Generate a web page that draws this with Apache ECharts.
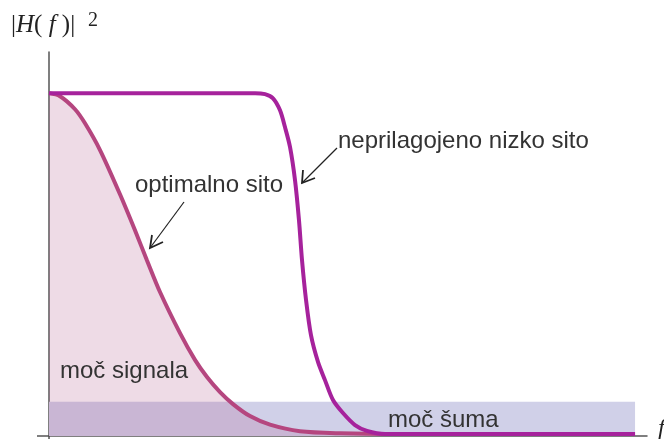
<!DOCTYPE html>
<html>
<head>
<meta charset="utf-8">
<script src="https://cdn.jsdelivr.net/npm/echarts@6/dist/echarts.min.js"></script>
<style>
  html, body { margin: 0; padding: 0; background: #fff; }
  #chart { width: 664px; height: 439px; }
</style>
</head>
<body>
<div id="chart"></div>
<script>
// frequency (0..100) and |H(f)|^2 values
const optimalF = [0, 1.84, 4.35, 6.02, 8.53, 11.87, 14.38, 16.39, 18.56, 21.91, 24.41, 26.42, 28.6, 30.77, 33.61, 36.96, 41.97, 48.66, 58.7, 98]
const optimalH = [1.0, 0.991, 0.953, 0.912, 0.834, 0.705, 0.6, 0.512, 0.42, 0.3, 0.222, 0.172, 0.128, 0.093, 0.058, 0.033, 0.014, 0.008, 0.006, 0.006]

const lowpassF = [0, 25.25, 34.45, 36.12, 37.46, 38.63, 39.46, 40.3, 41.14, 41.8, 42.31, 42.98, 43.81, 44.98, 46.15, 47.49, 49.16, 51.17, 53.18, 56.19, 98]
const lowpassH = [1, 1, 1, 0.997, 0.985, 0.95, 0.901, 0.843, 0.746, 0.63, 0.513, 0.397, 0.294, 0.216, 0.163, 0.105, 0.067, 0.032, 0.015, 0.006, 0.006]

const noiseF = [0, 98]
const noiseH = [0.1, 0.1]

const labels = {
  lowpass: 'neprilagojeno nizko sito',
  optimal: 'optimalno sito',
  signal: 'moč signala',
  noise: 'moč šuma'
}

const zip = (xs, ys) => xs.map((x, i) => [x, ys[i]])

const chart = echarts.init(document.getElementById('chart'))

// y is the baseline; zrender text has no alphabetic baseline, so shift from top
const sansText = (text, x, y) => ({
  type: 'text',
  z: 100,
  x: x,
  y: y - 19,
  style: {
    text: text,
    fill: '#333',
    font: '24px "Liberation Sans", Arial, sans-serif',
    verticalAlign: 'top'
  }
})

const arrow = (x1, y1, x2, y2, a1, a2) => ([
  {
    type: 'line',
    z: 100,
    shape: { x1: x1, y1: y1, x2: x2, y2: y2 },
    style: { stroke: '#222', lineWidth: 1.2 }
  },
  {
    type: 'polyline',
    z: 100,
    shape: { points: [a1, [x2, y2], a2] },
    style: { stroke: '#222', lineWidth: 1.8, fill: null }
  }
])

chart.setOption({
  animation: false,
  backgroundColor: '#fff',
  grid: { left: 49, right: 17, top: 52, bottom: 3 },
  xAxis: {
    type: 'value',
    min: 0,
    max: 100,
    axisLine: { show: true, lineStyle: { color: '#555', width: 1.5 } },
    axisTick: { show: false },
    axisLabel: { show: false },
    splitLine: { show: false }
  },
  yAxis: {
    type: 'value',
    min: 0,
    max: 1.12,
    axisLine: { show: true, lineStyle: { color: '#555', width: 1.5 } },
    axisTick: { show: false },
    axisLabel: { show: false },
    splitLine: { show: false }
  },
  series: [
    {
      name: 'noise',
      type: 'line',
      z: 1,
      data: zip(noiseF, noiseH),
      showSymbol: false,
      lineStyle: { width: 0 },
      areaStyle: { color: '#d0d0e8', opacity: 1 }
    },
    {
      name: 'optimal',
      type: 'line',
      z: 2,
      data: zip(optimalF, optimalH),
      smooth: 0.3,
      showSymbol: false,
      lineStyle: { color: '#b5467f', width: 4 },
      areaStyle: { color: 'rgba(174, 86, 136, 0.3)' }
    },
    {
      name: 'lowpass',
      type: 'line',
      z: 3,
      data: zip(lowpassF, lowpassH),
      smooth: 0.3,
      showSymbol: false,
      lineStyle: { color: '#a6229c', width: 4 }
    }
  ],
  graphic: [
    // axis overshoots
    { type: 'line', shape: { x1: 37, y1: 436, x2: 49, y2: 436 }, style: { stroke: '#555', lineWidth: 1.5 } },
    { type: 'line', shape: { x1: 49, y1: 436, x2: 49, y2: 439 }, style: { stroke: '#555', lineWidth: 1.5 } },
    // |H(f)|^2
    {
      type: 'text',
      x: 11,
      y: 13,
      style: {
        text: '{n||}{i|H}{n|( }{i|f}{n| )|}',
        verticalAlign: 'top',
        rich: {
          n: { font: '25px "Liberation Serif", "Times New Roman", serif', fill: '#222' },
          i: { font: 'italic 25px "Liberation Serif", "Times New Roman", serif', fill: '#222' }
        }
      }
    },
    {
      type: 'text',
      x: 88,
      y: 11,
      style: {
        text: '2',
        fill: '#222',
        font: '20px "Liberation Serif", "Times New Roman", serif',
        verticalAlign: 'top'
      }
    },
    {
      type: 'text',
      x: 658,
      y: 417,
      style: {
        text: 'f',
        fill: '#222',
        font: 'italic 24px "Liberation Serif", "Times New Roman", serif',
        verticalAlign: 'top'
      }
    },
    sansText(labels.lowpass, 338, 148),
    sansText(labels.optimal, 135, 192),
    sansText(labels.signal, 60, 378),
    sansText(labels.noise, 388, 427),
    ...arrow(337, 148, 302, 183, [303, 170], [315, 178]),
    ...arrow(184, 202, 150, 248, [152, 235], [163, 242])
  ]
})
</script>
</body>
</html>
